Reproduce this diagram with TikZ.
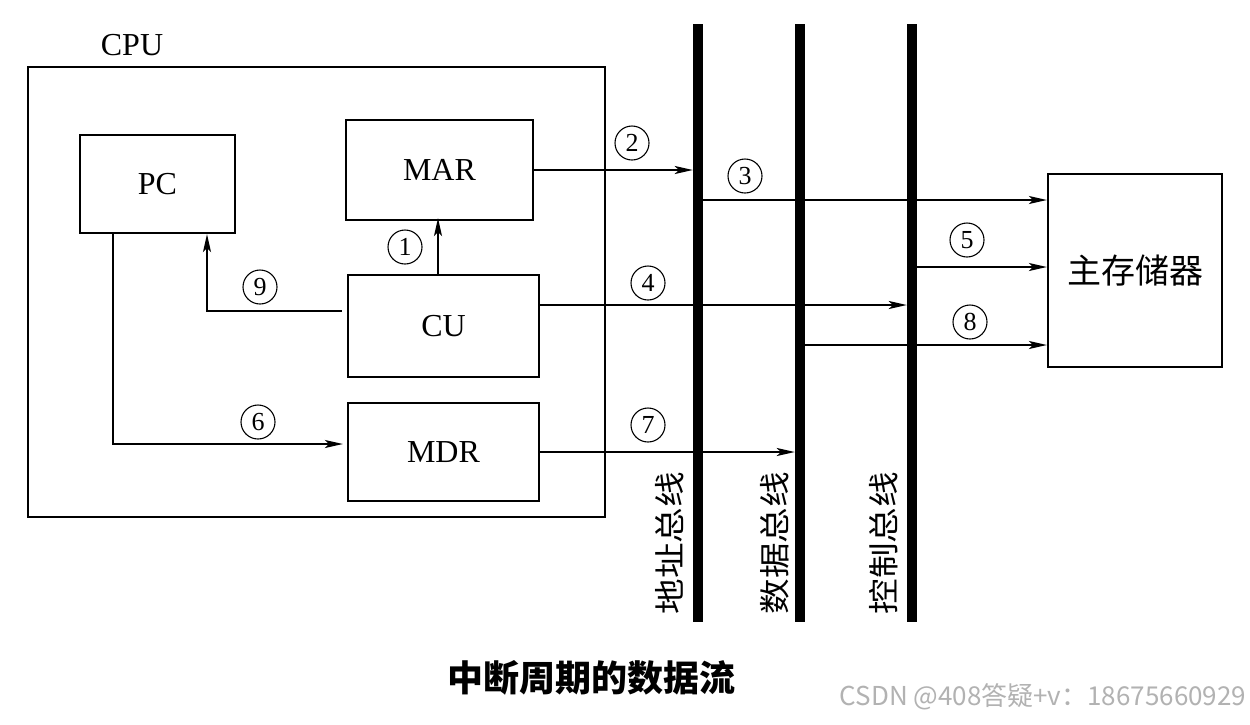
\documentclass[tikz,border=0pt]{standalone}
\usepackage{fontspec}
\setmainfont{Liberation Serif}
\newfontfamily\cjk{Noto Sans CJK SC}
\usetikzlibrary{arrows.meta,calc}
\tikzset{
  box/.style={draw, line width=2.2pt, inner sep=0pt, font=\fontsize{32}{36}\selectfont},
  bus/.style={fill=black, inner sep=0pt, minimum width=10, minimum height=598},
  arr/.style={-{Stealth[length=18pt,width=8pt,inset=4pt]}, line width=1.8pt},
  num/.style={circle, draw, line width=1.1pt, minimum size=34, inner sep=0pt, font=\fontsize{26}{27}\selectfont},
  buslbl/.style={font=\cjk\fontsize{31}{34}\selectfont, rotate=90, inner sep=0pt, xscale=1.15},
}
\begin{document}
\begin{tikzpicture}[x=1pt,y=-1pt]
\useasboundingbox (0,0) rectangle (1250,724);
\fill[white] (0,0) rectangle (1250,724);
% CPU
\node[box, minimum width=577, minimum height=450] (cpu) at (316.5,292) {};
\node[font=\fontsize{32}{36}\selectfont, inner sep=0pt] (cpulbl) at (132,45) {CPU};
\node[box, minimum width=155, minimum height=98] (pc) at (157.5,184) {PC};
\node[box, minimum width=187, minimum height=100] (mar) at (439.5,170) {MAR};
\node[box, minimum width=191, minimum height=102] (cu) at (443.5,326) {CU};
\node[box, minimum width=191, minimum height=98] (mdr) at (443.5,452) {MDR};
\node[box, minimum width=174, minimum height=193, font=\cjk\fontsize{34}{38}\selectfont] (mem) at (1135,270.5) {主存储器};
% buses
\node[bus] (abus) at (698,323) {};
\node[bus] (dbus) at (800,323) {};
\node[bus] (cbus) at (912,323) {};
\node[buslbl] (albl) at (670,543) {地址总线};
\node[buslbl] (dlbl) at (775,543) {数据总线};
\node[buslbl] (clbl) at (884,543) {控制总线};
% connectors
\draw[arr] (mar.east) -- (mar.east -| abus.west);
\draw[arr] (abus.east |- 0,200) -- (mem.west |- 0,200);
\draw[arr] (cu.east |- 0,305) -- (cbus.west |- 0,305);
\draw[arr] (cbus.east |- 0,267) -- (mem.west |- 0,267);
\draw[arr] (dbus.east |- 0,345) -- (mem.west |- 0,345);
\draw[arr] (mdr.east) -- (mdr.east -| dbus.west);
\draw[arr] (cu.north -| 438,0) -- ([yshift=3]mar.south -| 438,0);
\draw[arr] ([xshift=-5]cu.west |- 0,311) -| (pc.south -| 207,0);
\draw[arr] (pc.south -| 113,0) |- ([xshift=-4]mdr.west |- 0,444);
% labels
\node[num] (n1) at (405,247) {1};
\node[num] (n2) at (632,143) {2};
\node[num] (n3) at (745,176) {3};
\node[num] (n4) at (648,283) {4};
\node[num] (n5) at (967,240) {5};
\node[num] (n6) at (258,422) {6};
\node[num] (n7) at (648,425) {7};
\node[num] (n8) at (970,322) {8};
\node[num] (n9) at (260,287) {9};
% title and watermark
\node[font=\cjk\bfseries\fontsize{36}{40}\selectfont, inner sep=0pt] (title) at (591,678) {中断周期的数据流};
\node[font=\cjk\fontsize{26}{28}\selectfont, text=black!30, inner sep=0pt] (wm) at (1043,697) {CSDN @408答疑+v：18675660929};
\end{tikzpicture}
\end{document}
